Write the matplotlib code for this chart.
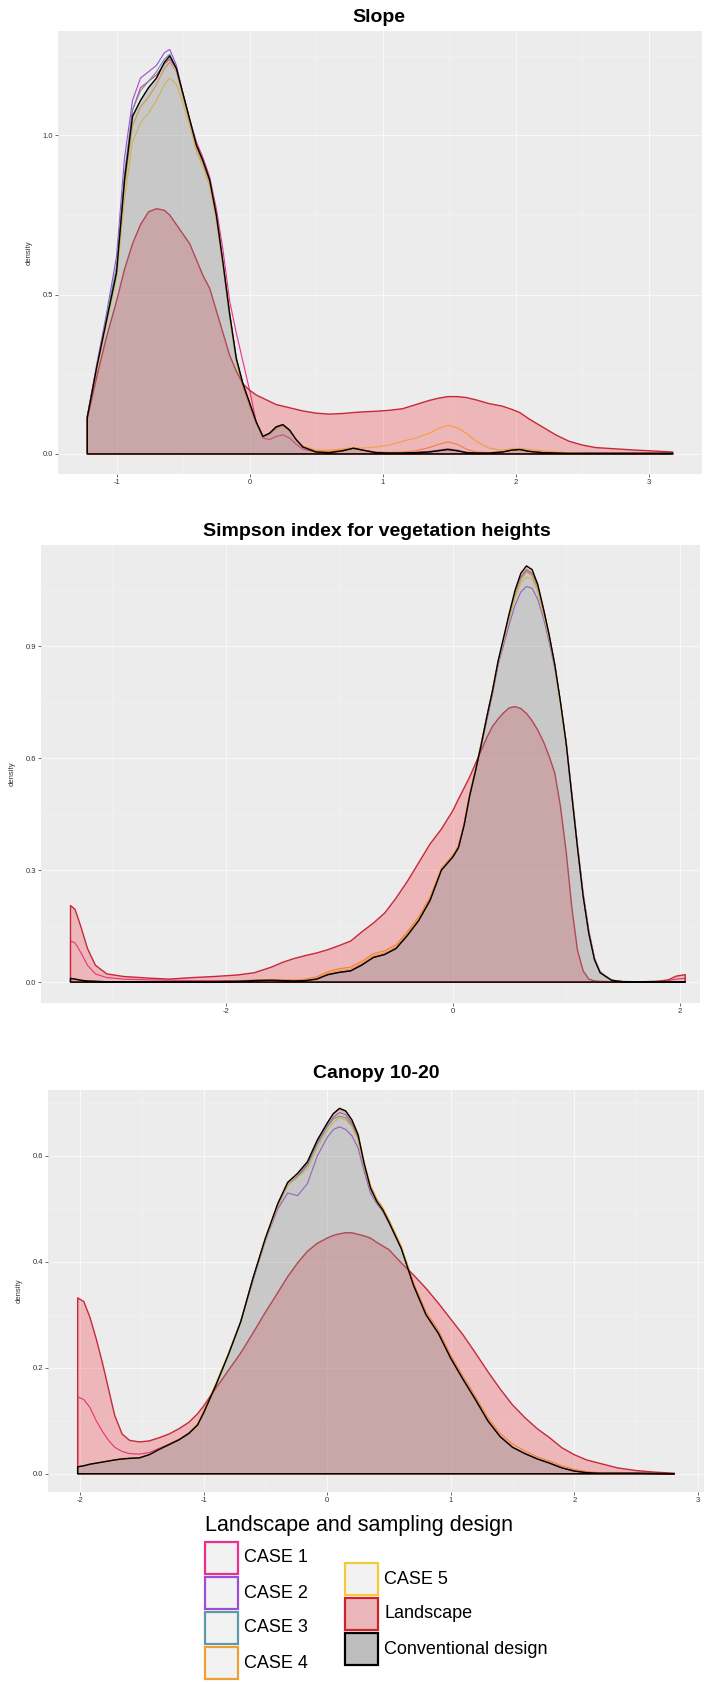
import matplotlib.pyplot as plt
from matplotlib.colors import to_rgba
from matplotlib.patches import Rectangle

plt.rcParams['font.family'] = ['Liberation Sans', 'DejaVu Sans']

SERIES = ['CASE 1', 'CASE 2', 'CASE 3', 'CASE 4', 'CASE 5', 'Landscape', 'Conventional design']
TITLES = ['Slope', 'Simpson index for vegetation heights', 'Canopy 10-20']

# ---- Slope ----
slope_x = [-1.22, -1.15, -1.08, -1.00, -0.94, -0.88, -0.82, -0.76, -0.70, -0.64,
           -0.60, -0.55, -0.50, -0.45, -0.40, -0.35, -0.30, -0.25, -0.20, -0.15,
           -0.10, -0.05, 0.00, 0.05, 0.10, 0.15, 0.20, 0.25, 0.30, 0.35,
           0.40, 0.50, 0.60, 0.70, 0.78, 0.85, 0.95, 1.05, 1.15, 1.25,
           1.35, 1.42, 1.49, 1.56, 1.63, 1.70, 1.80, 1.90, 1.97, 2.03,
           2.10, 2.20, 2.30, 2.40, 2.50, 2.60, 2.75, 2.90, 3.05, 3.18]
slope_conv = [0.116, 0.27, 0.41, 0.57, 0.86, 1.06, 1.11, 1.15, 1.18, 1.23,
              1.25, 1.21, 1.13, 1.05, 0.97, 0.92, 0.86, 0.75, 0.60, 0.44,
              0.30, 0.22, 0.16, 0.10, 0.055, 0.065, 0.085, 0.092, 0.075, 0.045,
              0.022, 0.006, 0.004, 0.010, 0.018, 0.012, 0.004, 0.003, 0.003, 0.004,
              0.006, 0.010, 0.014, 0.010, 0.004, 0.003, 0.003, 0.006, 0.012, 0.014,
              0.008, 0.004, 0.003, 0.002, 0.002, 0.002, 0.002, 0.002, 0.002, 0.002]
slope_land = [0.11, 0.24, 0.36, 0.48, 0.58, 0.66, 0.72, 0.76, 0.77, 0.765,
              0.75, 0.72, 0.69, 0.66, 0.61, 0.56, 0.52, 0.45, 0.38, 0.31,
              0.26, 0.22, 0.20, 0.185, 0.175, 0.165, 0.155, 0.15, 0.145, 0.14,
              0.135, 0.128, 0.125, 0.127, 0.13, 0.132, 0.134, 0.137, 0.142, 0.155,
              0.168, 0.175, 0.18, 0.18, 0.177, 0.17, 0.158, 0.15, 0.14, 0.13,
              0.11, 0.085, 0.06, 0.04, 0.028, 0.02, 0.016, 0.012, 0.009, 0.006]
slope_case1 = [0.116, 0.27, 0.41, 0.57, 0.87, 1.08, 1.15, 1.17, 1.19, 1.225,
               1.24, 1.21, 1.13, 1.05, 0.98, 0.93, 0.87, 0.77, 0.64, 0.48,
               0.38, 0.29, 0.20, 0.10, 0.05, 0.045, 0.055, 0.06, 0.05, 0.03,
               0.015, 0.006, 0.005, 0.010, 0.018, 0.012, 0.005, 0.004, 0.004, 0.005,
               0.008, 0.012, 0.016, 0.012, 0.005, 0.004, 0.004, 0.006, 0.012, 0.014,
               0.008, 0.004, 0.003, 0.002, 0.002, 0.002, 0.002, 0.002, 0.002, 0.002]
slope_case2 = [0.116, 0.28, 0.43, 0.62, 0.93, 1.11, 1.18, 1.20, 1.22, 1.26,
               1.27, 1.22, 1.13, 1.05, 0.97, 0.92, 0.86, 0.75, 0.60, 0.44,
               0.30, 0.22, 0.16, 0.10, 0.055, 0.065, 0.085, 0.092, 0.075, 0.045,
               0.022, 0.006, 0.004, 0.010, 0.018, 0.012, 0.004, 0.003, 0.003, 0.004,
               0.006, 0.010, 0.014, 0.010, 0.004, 0.003, 0.003, 0.006, 0.012, 0.014,
               0.008, 0.004, 0.003, 0.002, 0.002, 0.002, 0.002, 0.002, 0.002, 0.002]
slope_case3 = [0.116, 0.27, 0.42, 0.59, 0.88, 1.08, 1.14, 1.17, 1.20, 1.24,
               1.255, 1.21, 1.13, 1.05, 0.97, 0.92, 0.86, 0.75, 0.60, 0.44,
               0.30, 0.22, 0.16, 0.10, 0.055, 0.065, 0.085, 0.092, 0.075, 0.045,
               0.022, 0.006, 0.004, 0.010, 0.018, 0.012, 0.004, 0.003, 0.003, 0.004,
               0.006, 0.010, 0.014, 0.010, 0.004, 0.003, 0.003, 0.006, 0.012, 0.014,
               0.008, 0.004, 0.003, 0.002, 0.002, 0.002, 0.002, 0.002, 0.002, 0.002]
slope_case4 = [0.116, 0.27, 0.41, 0.56, 0.84, 1.03, 1.09, 1.12, 1.16, 1.21,
               1.23, 1.20, 1.12, 1.04, 0.96, 0.91, 0.85, 0.74, 0.59, 0.43,
               0.29, 0.21, 0.15, 0.095, 0.055, 0.062, 0.08, 0.088, 0.072, 0.045,
               0.024, 0.010, 0.008, 0.013, 0.016, 0.012, 0.006, 0.005, 0.006, 0.010,
               0.020, 0.030, 0.038, 0.030, 0.015, 0.006, 0.004, 0.006, 0.012, 0.014,
               0.009, 0.005, 0.003, 0.002, 0.002, 0.002, 0.002, 0.002, 0.002, 0.002]
slope_case5 = [0.116, 0.26, 0.40, 0.55, 0.80, 0.98, 1.04, 1.07, 1.11, 1.16,
               1.18, 1.16, 1.10, 1.03, 0.95, 0.90, 0.84, 0.73, 0.59, 0.43,
               0.29, 0.21, 0.15, 0.095, 0.055, 0.062, 0.08, 0.088, 0.072, 0.045,
               0.025, 0.012, 0.012, 0.016, 0.020, 0.018, 0.022, 0.028, 0.040, 0.050,
               0.065, 0.080, 0.090, 0.082, 0.065, 0.040, 0.018, 0.012, 0.016, 0.018,
               0.014, 0.010, 0.006, 0.004, 0.003, 0.002, 0.002, 0.002, 0.002, 0.002]

# ---- Simpson index ----
simp_x = [-3.37, -3.33, -3.28, -3.22, -3.15, -3.05, -2.90, -2.70, -2.50, -2.30,
          -2.10, -1.90, -1.75, -1.60, -1.50, -1.40, -1.30, -1.20, -1.10, -1.00,
          -0.90, -0.80, -0.70, -0.60, -0.50, -0.40, -0.30, -0.20, -0.10, 0.00,
          0.05, 0.10, 0.15, 0.20, 0.25, 0.30, 0.35, 0.40, 0.45, 0.50,
          0.55, 0.60, 0.65, 0.70, 0.75, 0.80, 0.85, 0.90, 0.95, 1.00,
          1.05, 1.10, 1.15, 1.20, 1.25, 1.30, 1.40, 1.50, 1.65, 1.80,
          1.90, 1.97, 2.05]
simp_land = [0.205, 0.195, 0.15, 0.09, 0.045, 0.022, 0.015, 0.011, 0.008, 0.012,
             0.015, 0.019, 0.025, 0.040, 0.053, 0.063, 0.071, 0.078, 0.087, 0.098,
             0.110, 0.135, 0.158, 0.185, 0.225, 0.27, 0.32, 0.37, 0.41, 0.459,
             0.49, 0.52, 0.55, 0.585, 0.62, 0.655, 0.685, 0.705, 0.722, 0.735,
             0.738, 0.733, 0.72, 0.70, 0.675, 0.644, 0.605, 0.56, 0.47, 0.35,
             0.20, 0.085, 0.03, 0.008, 0.003, 0.002, 0.001, 0.001, 0.001, 0.002,
             0.006, 0.016, 0.020]
simp_conv = [0.010, 0.008, 0.005, 0.003, 0.002, 0.001, 0.001, 0.001, 0.001, 0.001,
             0.001, 0.002, 0.004, 0.005, 0.004, 0.003, 0.004, 0.008, 0.020, 0.026,
             0.030, 0.046, 0.066, 0.074, 0.090, 0.125, 0.165, 0.219, 0.300, 0.335,
             0.36, 0.42, 0.50, 0.565, 0.635, 0.71, 0.78, 0.86, 0.925, 0.99,
             1.05, 1.095, 1.115, 1.105, 1.065, 1.00, 0.93, 0.85, 0.75, 0.64,
             0.50, 0.36, 0.23, 0.13, 0.06, 0.025, 0.005, 0.001, 0.001, 0.001,
             0.001, 0.001, 0.001]
simp_case1 = [0.11, 0.105, 0.08, 0.045, 0.022, 0.012, 0.008, 0.006, 0.005, 0.004,
              0.004, 0.004, 0.005, 0.006, 0.005, 0.004, 0.005, 0.009, 0.021, 0.027,
              0.031, 0.047, 0.066, 0.075, 0.091, 0.126, 0.166, 0.22, 0.30, 0.335,
              0.36, 0.42, 0.50, 0.565, 0.63, 0.70, 0.77, 0.85, 0.915, 0.98,
              1.04, 1.085, 1.105, 1.095, 1.06, 1.00, 0.93, 0.85, 0.75, 0.64,
              0.50, 0.36, 0.23, 0.13, 0.06, 0.025, 0.005, 0.002, 0.001, 0.002,
              0.004, 0.008, 0.010]
simp_case2 = [0.010, 0.008, 0.005, 0.003, 0.002, 0.001, 0.001, 0.001, 0.001, 0.001,
              0.001, 0.002, 0.004, 0.005, 0.004, 0.003, 0.004, 0.008, 0.020, 0.026,
              0.030, 0.046, 0.066, 0.074, 0.090, 0.125, 0.165, 0.219, 0.300, 0.335,
              0.36, 0.42, 0.50, 0.565, 0.635, 0.71, 0.78, 0.85, 0.905, 0.96,
              1.01, 1.045, 1.06, 1.055, 1.025, 0.975, 0.91, 0.84, 0.75, 0.645,
              0.51, 0.37, 0.24, 0.14, 0.065, 0.028, 0.005, 0.001, 0.001, 0.001,
              0.001, 0.001, 0.001]
simp_case3 = [0.010, 0.008, 0.005, 0.003, 0.002, 0.001, 0.001, 0.001, 0.001, 0.001,
              0.001, 0.002, 0.004, 0.005, 0.004, 0.003, 0.004, 0.008, 0.020, 0.026,
              0.030, 0.046, 0.066, 0.074, 0.090, 0.125, 0.165, 0.219, 0.300, 0.335,
              0.36, 0.42, 0.50, 0.565, 0.635, 0.71, 0.78, 0.86, 0.92, 0.985,
              1.04, 1.08, 1.10, 1.09, 1.055, 0.995, 0.93, 0.85, 0.75, 0.64,
              0.50, 0.36, 0.23, 0.13, 0.06, 0.025, 0.005, 0.001, 0.001, 0.001,
              0.001, 0.001, 0.001]
simp_case4 = [0.010, 0.008, 0.005, 0.003, 0.002, 0.001, 0.001, 0.001, 0.001, 0.001,
              0.001, 0.002, 0.005, 0.007, 0.006, 0.006, 0.008, 0.014, 0.028, 0.036,
              0.040, 0.056, 0.076, 0.084, 0.100, 0.135, 0.175, 0.228, 0.305, 0.34,
              0.365, 0.425, 0.505, 0.57, 0.64, 0.71, 0.78, 0.86, 0.92, 0.985,
              1.04, 1.08, 1.10, 1.09, 1.055, 0.995, 0.93, 0.85, 0.75, 0.64,
              0.50, 0.36, 0.23, 0.13, 0.06, 0.025, 0.005, 0.001, 0.001, 0.001,
              0.001, 0.001, 0.001]
simp_case5 = [0.010, 0.008, 0.005, 0.003, 0.002, 0.001, 0.001, 0.001, 0.001, 0.001,
              0.001, 0.002, 0.004, 0.006, 0.005, 0.005, 0.006, 0.011, 0.024, 0.031,
              0.035, 0.051, 0.071, 0.079, 0.095, 0.130, 0.170, 0.224, 0.303, 0.338,
              0.362, 0.423, 0.503, 0.568, 0.638, 0.71, 0.78, 0.855, 0.915, 0.975,
              1.03, 1.07, 1.085, 1.08, 1.045, 0.985, 0.92, 0.845, 0.745, 0.64,
              0.50, 0.36, 0.23, 0.13, 0.06, 0.025, 0.005, 0.001, 0.001, 0.001,
              0.001, 0.001, 0.001]

# ---- Canopy 10-20 ----
canopy_x = [-2.02, -1.97, -1.92, -1.87, -1.82, -1.77, -1.72, -1.66, -1.60, -1.52,
            -1.44, -1.36, -1.28, -1.20, -1.12, -1.05, -1.00, -0.90, -0.80, -0.70,
            -0.60, -0.50, -0.40, -0.32, -0.24, -0.16, -0.08, 0.00, 0.05, 0.10,
            0.15, 0.20, 0.25, 0.30, 0.35, 0.40, 0.45, 0.50, 0.60, 0.70,
            0.80, 0.90, 1.00, 1.10, 1.20, 1.30, 1.40, 1.50, 1.60, 1.70,
            1.80, 1.90, 2.00, 2.10, 2.20, 2.35, 2.50, 2.65, 2.81]
canopy_conv = [0.013, 0.015, 0.018, 0.020, 0.022, 0.024, 0.026, 0.028, 0.029, 0.030,
               0.036, 0.046, 0.055, 0.064, 0.076, 0.092, 0.115, 0.168, 0.225, 0.287,
               0.370, 0.445, 0.510, 0.550, 0.567, 0.589, 0.630, 0.662, 0.680, 0.690,
               0.685, 0.668, 0.640, 0.585, 0.540, 0.515, 0.498, 0.475, 0.425, 0.355,
               0.300, 0.265, 0.218, 0.178, 0.140, 0.100, 0.070, 0.050, 0.038, 0.028,
               0.020, 0.011, 0.005, 0.002, 0.001, 0.001, 0.001, 0.0005, 0.0]
canopy_land = [0.332, 0.325, 0.295, 0.255, 0.210, 0.160, 0.110, 0.075, 0.063, 0.060,
               0.062, 0.068, 0.075, 0.085, 0.097, 0.113, 0.128, 0.162, 0.195, 0.228,
               0.266, 0.305, 0.342, 0.372, 0.398, 0.420, 0.435, 0.445, 0.450, 0.453,
               0.455, 0.455, 0.452, 0.449, 0.445, 0.437, 0.430, 0.423, 0.398, 0.375,
               0.350, 0.322, 0.292, 0.262, 0.228, 0.193, 0.160, 0.130, 0.106, 0.085,
               0.068, 0.049, 0.036, 0.026, 0.020, 0.011, 0.006, 0.003, 0.001]
canopy_case1 = [0.145, 0.140, 0.125, 0.100, 0.080, 0.063, 0.050, 0.042, 0.038, 0.037,
                0.040, 0.048, 0.056, 0.065, 0.077, 0.092, 0.116, 0.168, 0.226, 0.288,
                0.370, 0.443, 0.505, 0.545, 0.562, 0.584, 0.625, 0.656, 0.673, 0.682,
                0.678, 0.662, 0.635, 0.582, 0.538, 0.514, 0.497, 0.475, 0.425, 0.355,
                0.300, 0.265, 0.218, 0.178, 0.140, 0.100, 0.070, 0.050, 0.038, 0.028,
                0.020, 0.011, 0.005, 0.002, 0.001, 0.001, 0.001, 0.0005, 0.0]
canopy_case2 = [0.013, 0.015, 0.018, 0.020, 0.022, 0.024, 0.026, 0.028, 0.029, 0.030,
                0.036, 0.046, 0.055, 0.064, 0.076, 0.092, 0.115, 0.168, 0.225, 0.287,
                0.365, 0.440, 0.500, 0.530, 0.525, 0.548, 0.600, 0.635, 0.650, 0.655,
                0.650, 0.638, 0.615, 0.570, 0.530, 0.510, 0.495, 0.473, 0.425, 0.355,
                0.300, 0.265, 0.218, 0.178, 0.140, 0.100, 0.070, 0.050, 0.038, 0.028,
                0.020, 0.011, 0.005, 0.002, 0.001, 0.001, 0.001, 0.0005, 0.0]
canopy_case3 = [0.013, 0.015, 0.018, 0.020, 0.022, 0.024, 0.026, 0.028, 0.029, 0.030,
                0.036, 0.046, 0.055, 0.064, 0.076, 0.092, 0.115, 0.168, 0.225, 0.287,
                0.368, 0.443, 0.507, 0.545, 0.560, 0.582, 0.622, 0.655, 0.670, 0.675,
                0.672, 0.658, 0.632, 0.580, 0.537, 0.513, 0.497, 0.475, 0.425, 0.355,
                0.300, 0.265, 0.218, 0.178, 0.140, 0.100, 0.070, 0.050, 0.038, 0.028,
                0.020, 0.011, 0.005, 0.002, 0.001, 0.001, 0.001, 0.0005, 0.0]
canopy_case4 = [0.013, 0.015, 0.018, 0.020, 0.022, 0.024, 0.026, 0.028, 0.029, 0.030,
                0.036, 0.046, 0.055, 0.064, 0.076, 0.092, 0.115, 0.168, 0.225, 0.287,
                0.370, 0.445, 0.510, 0.550, 0.567, 0.589, 0.630, 0.662, 0.680, 0.688,
                0.684, 0.668, 0.642, 0.588, 0.545, 0.520, 0.503, 0.480, 0.430, 0.360,
                0.306, 0.271, 0.224, 0.184, 0.146, 0.106, 0.076, 0.056, 0.043, 0.032,
                0.024, 0.015, 0.008, 0.004, 0.002, 0.001, 0.001, 0.0005, 0.0]
canopy_case5 = [0.013, 0.015, 0.018, 0.020, 0.022, 0.024, 0.026, 0.028, 0.029, 0.030,
                0.036, 0.046, 0.055, 0.064, 0.076, 0.094, 0.120, 0.172, 0.228, 0.287,
                0.368, 0.442, 0.505, 0.545, 0.560, 0.575, 0.615, 0.648, 0.664, 0.672,
                0.668, 0.655, 0.630, 0.580, 0.538, 0.514, 0.497, 0.475, 0.425, 0.355,
                0.300, 0.265, 0.218, 0.178, 0.140, 0.100, 0.070, 0.050, 0.038, 0.028,
                0.020, 0.011, 0.005, 0.002, 0.001, 0.001, 0.001, 0.0005, 0.0]

CASE_COLORS = ['#E8308C', '#9B4FD6', '#5E9AA6', '#F0A030', '#F2CB3A']
LAND_EDGE = '#C8283C'
LAND_FILL = to_rgba('#F0303A', 0.28)
CONV_FILL = to_rgba('#878787', 0.35)

W, H = 717, 1684
fig = plt.figure(figsize=(W / 100, H / 100), dpi=100)


def px_rect(left, top, right, bottom):
    return [left / W, 1 - bottom / H, (right - left) / W, (bottom - top) / H]


def outline(ax, x, y, face, edge, lw, z):
    # closed density polygon: down to the baseline at both ends
    xs = [x[0]] + list(x) + [x[-1]]
    ys = [0] + list(y) + [0]
    ax.fill(xs, ys, facecolor=face, edgecolor=edge, lw=lw, zorder=z,
            joinstyle='round')


def panel(rect, title, title_xy, x, cases, land, conv, xlim, ylim,
          xmajor, xminor, ymajor, yminor, ylabels):
    ax = fig.add_axes(px_rect(*rect))
    ax.set_facecolor('#ECECEC')
    for s in ax.spines.values():
        s.set_visible(False)

    for i, c in enumerate(cases):
        outline(ax, x, c, 'none', CASE_COLORS[i], 0.8, 2 + i * 0.1)
    outline(ax, x, land, LAND_FILL, LAND_EDGE, 1.0, 3)
    outline(ax, x, conv, CONV_FILL, 'black', 1.0, 4)

    ax.set_xlim(*xlim)
    ax.set_ylim(*ylim)
    ax.set_xticks(xmajor)
    ax.set_xticklabels([str(v) for v in xmajor])
    ax.set_xticks(xminor, minor=True)
    ax.set_yticks(ymajor)
    ax.set_yticklabels(ylabels)
    ax.set_yticks(yminor, minor=True)
    ax.grid(which='major', color='#F8F8F8', lw=0.8, zorder=0)
    ax.grid(which='minor', color='#F4F4F4', lw=0.4, zorder=0)
    ax.set_axisbelow(True)
    ax.tick_params(which='major', length=2, width=0.5, color='#333333',
                   labelsize=5.5, labelcolor='#333333', pad=1.5)
    ax.tick_params(which='minor', length=0)
    ax.set_ylabel('density', fontsize=5.5, color='#333333')
    ax.yaxis.set_label_coords(-0.039, 0.5)

    fig.text(title_xy[0] / W, 1 - title_xy[1] / H, title, ha='center',
             va='center', fontsize=14, fontweight='bold')
    return ax


panel((58, 31, 702, 474), TITLES[0], (379, 17), slope_x,
      [slope_case1, slope_case2, slope_case3, slope_case4, slope_case5],
      slope_land, slope_conv, (-1.44, 3.40), (-0.063, 1.328),
      [-1, 0, 1, 2, 3], [-0.5, 0.5, 1.5, 2.5],
      [0.0, 0.5, 1.0], [0.25, 0.75, 1.25], ['0.0', '0.5', '1.0'])

panel((41, 545, 700, 1003), TITLES[1], (377, 531), simp_x,
      [simp_case1, simp_case2, simp_case3, simp_case4, simp_case5],
      simp_land, simp_conv, (-3.63, 2.18), (-0.056, 1.171),
      [-2, 0, 2], [-3, -1, 1],
      [0.0, 0.3, 0.6, 0.9], [0.15, 0.45, 0.75, 1.05],
      ['0.0', '0.3', '0.6', '0.9'])

panel((48, 1090, 704, 1492), TITLES[2], (376, 1073), canopy_x,
      [canopy_case1, canopy_case2, canopy_case3, canopy_case4, canopy_case5],
      canopy_land, canopy_conv, (-2.26, 3.05), (-0.0345, 0.7245),
      [-2, -1, 0, 1, 2, 3], [-1.5, -0.5, 0.5, 1.5, 2.5],
      [0.0, 0.2, 0.4, 0.6], [0.1, 0.3, 0.5, 0.7],
      ['0.0', '0.2', '0.4', '0.6'])

# legend drawn in pixel space under the last panel
lg = fig.add_axes([0, 0, 1, 1])
lg.set_xlim(0, W)
lg.set_ylim(H, 0)
lg.axis('off')
lg.patch.set_alpha(0)

lg.text(205, 1525, 'Landscape and sampling design', fontsize=15.5,
        ha='left', va='center')

key_faces = ['#F2F2F2'] * 5 + ['#EBB6BA', '#BDBDBD']
key_edges = CASE_COLORS + ['#D0202A', 'black']
key_pos = [(205, 1542), (205, 1577), (205, 1612), (205, 1647),
           (345, 1563), (345, 1598), (345, 1633)]
for name, face, edge, (kx, ky) in zip(SERIES, key_faces, key_edges, key_pos):
    lg.add_patch(Rectangle((kx, ky), 33, 32, facecolor=face, edgecolor=edge, lw=1.6))
    lg.text(kx + 39, ky + 16, name, fontsize=13, ha='left', va='center')

fig.savefig('out.png', dpi=100)
